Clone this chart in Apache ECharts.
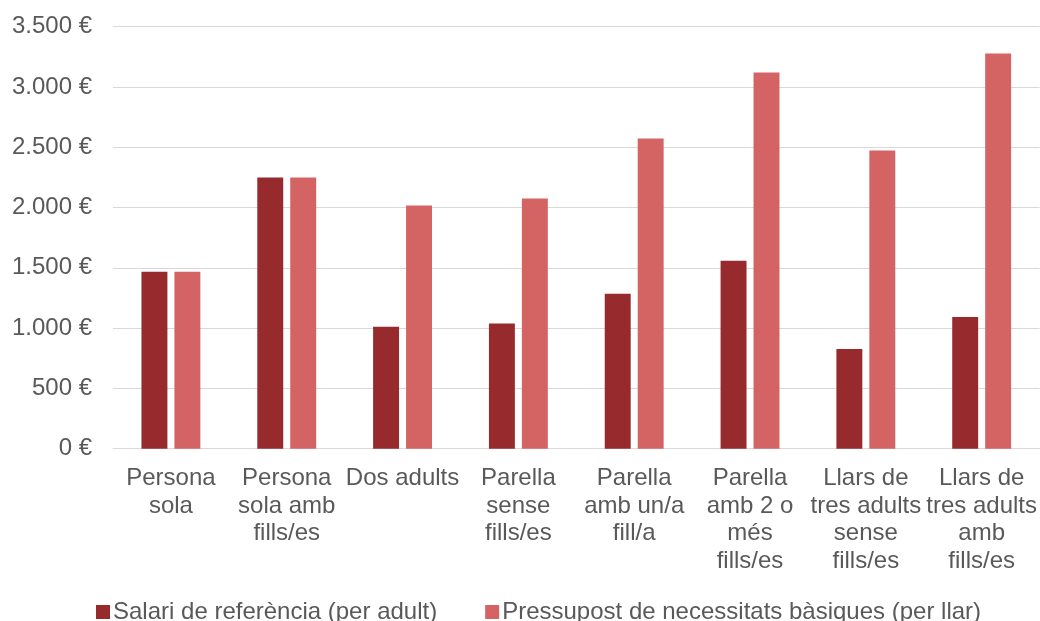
<!DOCTYPE html>
<html>
<head>
<meta charset="utf-8">
<script src="https://cdn.jsdelivr.net/npm/echarts@6/dist/echarts.min.js"></script>
<style>
html,body{margin:0;padding:0;background:#fff;}
#c{width:1040px;height:621px;}
</style>
</head>
<body>
<div id="c"></div>
<script>
const categories = [
  "Persona\nsola",
  "Persona\nsola amb\nfills/es",
  "Dos adults",
  "Parella\nsense\nfills/es",
  "Parella\namb un/a\nfill/a",
  "Parella\namb 2 o\nmés\nfills/es",
  "Llars de\ntres adults\nsense\nfills/es",
  "Llars de\ntres adults\namb\nfills/es"
];
const seriesNames = ["Salari de referència (per adult)", "Pressupost de necessitats bàsiques (per llar)"];
const salari = [1467, 2250, 1011, 1039, 1285, 1558, 826, 1092];
const pressupost = [1467, 2250, 2018, 2076, 2573, 3120, 2474, 3278];
const yMin = 0, yMax = 3500, yStep = 500;

const FONT = "'Liberation Sans', Arial, sans-serif";
const TXT = "#595959";

function euro(v) {
  const s = String(Math.round(v)).replace(/\B(?=(\d{3})+(?!\d))/g, ".");
  return s + " €";
}

const chart = echarts.init(document.getElementById('c'), null, {renderer: 'canvas'});
chart.setOption({
  animation: false,
  backgroundColor: '#ffffff',
  grid: {left: 113, right: 0, top: 26.7, bottom: 172.3, containLabel: false},
  legend: {
    data: seriesNames,
    left: 96,
    top: 600,
    padding: 0,
    itemWidth: 14,
    itemHeight: 14,
    itemGap: 48,
    icon: 'rect',
    textStyle: {fontFamily: FONT, fontSize: 24, color: TXT, padding: [0, 0, 0, -2]}
  },
  xAxis: {
    type: 'category',
    data: categories,
    axisLine: {show: true, lineStyle: {color: '#d9d9d9', width: 1}},
    axisTick: {show: false},
    axisLabel: {
      interval: 0,
      margin: 16,
      fontFamily: FONT,
      fontSize: 24,
      lineHeight: 27.5,
      color: TXT,
      align: 'center'
    }
  },
  yAxis: {
    type: 'value',
    min: yMin,
    max: yMax,
    interval: yStep,
    axisLine: {show: false},
    axisTick: {show: false},
    splitLine: {lineStyle: {color: '#d9d9d9', width: 1}},
    axisLabel: {
      margin: 21,
      fontFamily: FONT,
      fontSize: 24,
      color: TXT,
      formatter: euro
    }
  },
  series: [
    {
      name: seriesNames[0],
      type: 'bar',
      data: salari,
      barWidth: '22.4%',
      barGap: '27%',
      itemStyle: {color: '#962a2c'}
    },
    {
      name: seriesNames[1],
      type: 'bar',
      data: pressupost,
      barWidth: '22.4%',
      barGap: '27%',
      itemStyle: {color: '#d46464'}
    }
  ]
});
</script>
</body>
</html>
